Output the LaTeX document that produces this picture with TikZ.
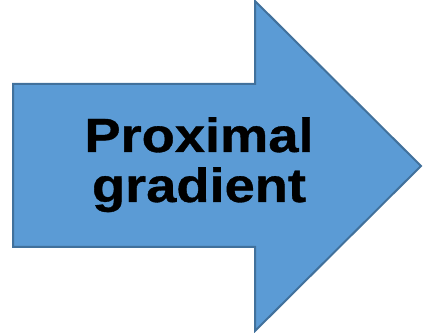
\documentclass[tikz,border=0pt]{standalone}
\usepackage{fontspec}
\setmainfont{Liberation Sans}
\newfontfamily\labelfont{Liberation Sans}[BoldFeatures={FakeBold=0.7}]
\usetikzlibrary{positioning}
\definecolor{arrowfill}{HTML}{5B9BD5}
\definecolor{arrowline}{HTML}{41719C}
\tikzset{
  bigarrow/.style={draw=arrowline, line width=2pt, fill=arrowfill, line join=miter},
  label/.style={font=\labelfont\fontsize{48}{50}\selectfont\bfseries, text=black, inner sep=0pt,
    anchor=base, xscale=1.13, transform shape}
}

\begin{document}
\begin{tikzpicture}[x=1pt,y=1pt]
\useasboundingbox (0,0) rectangle (423,332);
% arrow shape
\draw[bigarrow] (13,85) -- (13,248) -- (255,248) -- (255,331) -- (421,166)
  -- (255,1) -- (255,85) -- cycle;
\node[label] (line1) at (199,180) {Proximal};
\node[label] (line2) at (199,130) {gradient};
\end{tikzpicture}
\end{document}
